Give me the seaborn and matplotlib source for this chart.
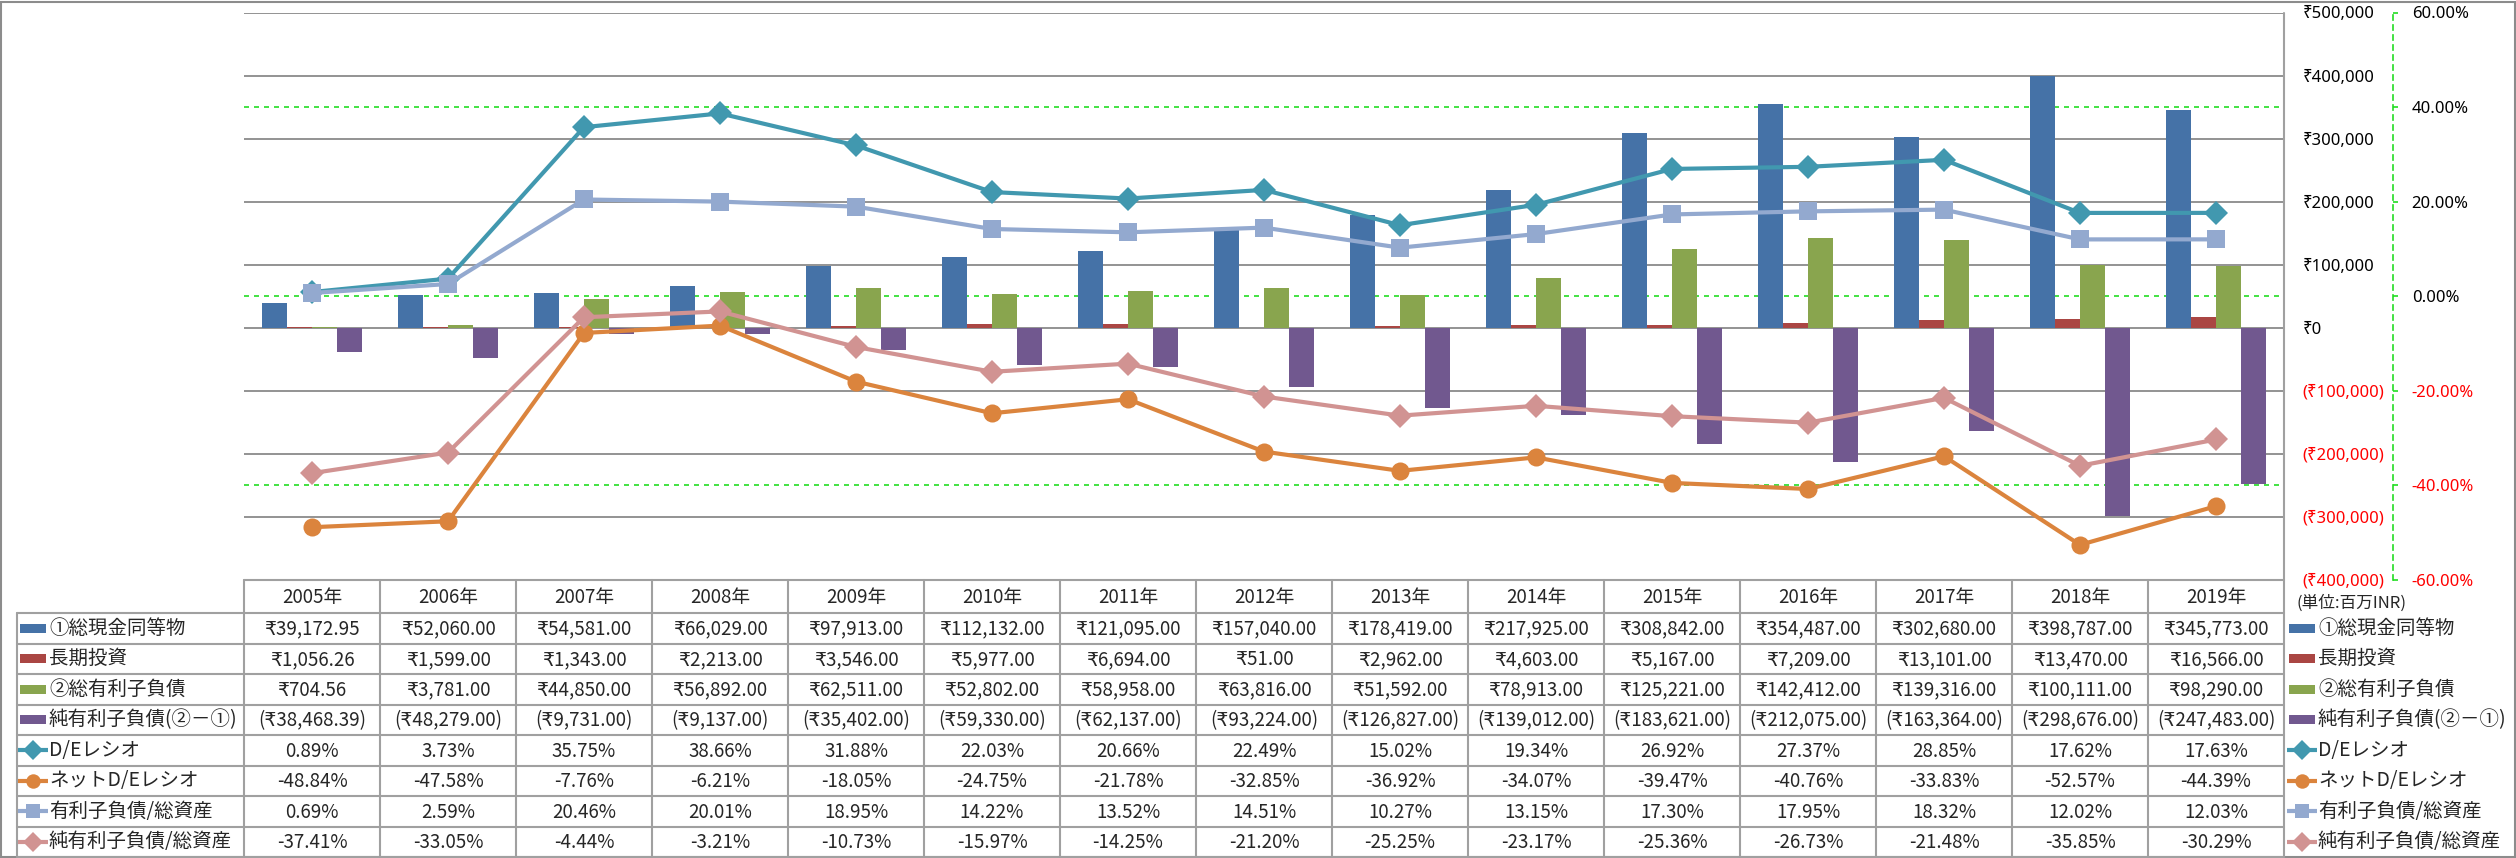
import numpy as np
import pandas as pd
import matplotlib
matplotlib.use("Agg")
import matplotlib.pyplot as plt
import seaborn as sns
from matplotlib.patches import Rectangle

# ---------------- data ----------------
years = ["2005年", "2006年", "2007年", "2008年", "2009年", "2010年", "2011年", "2012年",
         "2013年", "2014年", "2015年", "2016年", "2017年", "2018年", "2019年"]

cash = [39172.95, 52060.00, 54581.00, 66029.00, 97913.00, 112132.00, 121095.00, 157040.00,
        178419.00, 217925.00, 308842.00, 354487.00, 302680.00, 398787.00, 345773.00]
lt_invest = [1056.26, 1599.00, 1343.00, 2213.00, 3546.00, 5977.00, 6694.00, 51.00,
             2962.00, 4603.00, 5167.00, 7209.00, 13101.00, 13470.00, 16566.00]
debt = [704.56, 3781.00, 44850.00, 56892.00, 62511.00, 52802.00, 58958.00, 63816.00,
        51592.00, 78913.00, 125221.00, 142412.00, 139316.00, 100111.00, 98290.00]
net_debt = [-38468.39, -48279.00, -9731.00, -9137.00, -35402.00, -59330.00, -62137.00, -93224.00,
            -126827.00, -139012.00, -183621.00, -212075.00, -163364.00, -298676.00, -247483.00]

de_ratio = [0.89, 3.73, 35.75, 38.66, 31.88, 22.03, 20.66, 22.49, 15.02, 19.34, 26.92, 27.37, 28.85, 17.62, 17.63]
net_de_ratio = [-48.84, -47.58, -7.76, -6.21, -18.05, -24.75, -21.78, -32.85, -36.92, -34.07, -39.47, -40.76, -33.83, -52.57, -44.39]
debt_ta = [0.69, 2.59, 20.46, 20.01, 18.95, 14.22, 13.52, 14.51, 10.27, 13.15, 17.30, 17.95, 18.32, 12.02, 12.03]
net_debt_ta = [-37.41, -33.05, -4.44, -3.21, -10.73, -15.97, -14.25, -21.20, -25.25, -23.17, -25.36, -26.73, -21.48, -35.85, -30.29]

bar_names = ["①総現金同等物", "長期投資", "②総有利子負債", "純有利子負債(②－①)"]
line_names = ["D/Eレシオ", "ネットD/Eレシオ", "有利子負債/総資産", "純有利子負債/総資産"]
unit_text = "(単位:百万INR)"

left_ticks = [-400000, -300000, -200000, -100000, 0, 100000, 200000, 300000, 400000, 500000]
right_ticks = [-60, -40, -20, 0, 20, 40, 60]
right_grid = [-40, 0, 40]

bar_colors = ["#4572A7", "#AA4643", "#89A54E", "#71588F"]
line_colors = ["#4198AF", "#DB843D", "#93A9CF", "#D19392"]
line_markers = ["D", "o", "s", "D"]
line_ms = [12.7, 13, 13, 12.7]

# ---------------- fonts ----------------
sns.set_style("white")
plt.rcParams["font.family"] = ["Noto Sans", "Noto Sans CJK JP", "DejaVu Sans"]
NUM_FONT = ["Liberation Sans Narrow", "Noto Sans CJK JP", "DejaVu Sans"]
CJK_FONT = ["Noto Sans CJK JP", "DejaVu Sans"]

W, H = 2516, 858
fig = plt.figure(figsize=(W / 100, H / 100), dpi=100)
fig.patch.set_facecolor("white")

L, R, T, B = 244, 2284, 12.5, 580
ax = fig.add_axes([L / W, 1 - B / H, (R - L) / W, (B - T) / H])

bar_vals = [cash, lt_invest, debt, net_debt]
df = pd.DataFrame({
    "year": years * 4,
    "series": sum([[n] * len(years) for n in bar_names], []),
    "value": sum(bar_vals, []),
})
sns.barplot(data=df, x="year", y="value", hue="series", order=years, hue_order=bar_names,
            palette=dict(zip(bar_names, bar_colors)), width=0.735, saturation=1,
            linewidth=0, legend=False, errorbar=None, ax=ax)

lo1, hi1 = -400000, 500000
lo2, hi2 = -60, 60
ax.set_xlim(-0.5, len(years) - 0.5)
ax.set_ylim(lo1, hi1)
ax.set_xticks([])
ax.set_xlabel("")
ax.set_ylabel("")
for s in ax.spines.values():
    s.set_visible(False)
for v in left_ticks:
    ax.axhline(v, color="#8A8A8A", lw=1.3, zorder=0)
for p in right_grid:
    ax.axhline(lo1 + (p - lo2) / (hi2 - lo2) * (hi1 - lo1), color="#22DD22", lw=1.2,
               ls=(0, (3, 3)), zorder=0.5)


def money0(v):
    return f"₹{v:,.0f}" if v >= 0 else f"(₹{-v:,.0f})"


def money2(v):
    return f"₹{v:,.2f}" if v >= 0 else f"(₹{-v:,.2f})"


ax2 = ax.twinx()

ax.yaxis.tick_right()
ax.yaxis.set_label_position("right")
ax.set_yticks(left_ticks)
ax.set_yticklabels([money0(v) for v in left_ticks])
ax.tick_params(axis="y", which="both", left=False, labelleft=False, right=False, labelright=True,
               length=0, pad=13.5, labelsize=12)
for lab, v in zip(ax.get_yticklabels(), left_ticks):
    lab.set_color("red" if v < 0 else "black")

xs = np.arange(len(years))
for vals, c, m, ms in zip([de_ratio, net_de_ratio, debt_ta, net_debt_ta], line_colors, line_markers, line_ms):
    sns.lineplot(x=xs, y=vals, ax=ax2, color=c, marker=m, markersize=ms, linewidth=3,
                 markeredgecolor=c, markeredgewidth=0, legend=False)
ax2.set_xlim(-0.5, len(years) - 0.5)
ax2.set_ylim(lo2, hi2)
ax2.set_ylabel("")
for k, s in ax2.spines.items():
    s.set_visible(k == "right")
ax2.spines["right"].set_position(("axes", (2393 - L) / (R - L)))
ax2.spines["right"].set_color("#22DD22")
ax2.spines["right"].set_linestyle((0, (3, 3)))
ax2.spines["right"].set_linewidth(1.2)
ax2.set_yticks(right_ticks)
ax2.set_yticklabels([f"{v:.2f}%" for v in right_ticks])
ax2.tick_params(axis="y", direction="out", length=3.5, width=1.2, color="#22DD22", pad=10,
                labelsize=12)
for lab, v in zip(ax2.get_yticklabels(), right_ticks):
    lab.set_color("red" if v < 0 else "black")

# ---------------- data table ----------------
ov = fig.add_axes([0, 0, 1, 1])
ov.set_xlim(0, W)
ov.set_ylim(H, 0)
ov.axis("off")

gc = "#A0A0A0"
ncol = len(years)
col_x = [L + i * (R - L) / ncol for i in range(ncol + 1)]
hdr_top, hdr_bot, tbl_bot = 580, 613, 857
nrow = 8
row_h = (tbl_bot - hdr_bot) / nrow

ov.plot([L, R], [hdr_top, hdr_top], color=gc, lw=1.5)
for i, x in enumerate(col_x):
    top = T if i == ncol else hdr_top
    ov.plot([x, x], [top, tbl_bot], color=gc, lw=1.5)
for k in range(nrow + 1):
    y = hdr_bot + k * row_h
    ov.plot([17, R], [y, y], color=gc, lw=1.5)
ov.plot([17, 17], [hdr_bot, tbl_bot], color=gc, lw=1.5)

for i, yl in enumerate(years):
    ov.text((col_x[i] + col_x[i + 1]) / 2, (hdr_top + hdr_bot) / 2 + 1, yl, ha="center", va="center",
            fontsize=13.5, family=NUM_FONT)

rows_text = [[money2(v) for v in s] for s in bar_vals] + \
            [[f"{v:.2f}%" for v in s] for s in [de_ratio, net_de_ratio, debt_ta, net_debt_ta]]
names = bar_names + line_names
for k in range(nrow):
    yc = hdr_bot + (k + 0.5) * row_h
    for i in range(ncol):
        ov.text((col_x[i] + col_x[i + 1]) / 2, yc + 1, rows_text[k][i], ha="center", va="center",
                fontsize=13.5, family=NUM_FONT)
    for kx0, tx in ((18, 49), (2287, 2318)):
        if k < 4:
            ov.add_patch(Rectangle((kx0 + 2, yc - 4.5), 26, 9, color=bar_colors[k], lw=0))
        else:
            c = line_colors[k - 4]
            ov.plot([kx0, kx0 + 30], [yc, yc], color=c, lw=3, solid_capstyle="butt")
            ov.plot([kx0 + 15], [yc], marker=line_markers[k - 4], ms=line_ms[k - 4] * 0.8,
                    color=c, mew=0)
        ov.text(tx, yc, names[k], ha="left", va="center", fontsize=14, family=CJK_FONT)

ov.text(2297, 603, unit_text, ha="left", va="center", fontsize=12, family=CJK_FONT)

ov.add_patch(Rectangle((0.8, 1.8), W - 1.8, H - 2.6, fill=False, edgecolor="#8C8C8C", lw=1.5))

fig.savefig("out.png", dpi=100, facecolor="white")
